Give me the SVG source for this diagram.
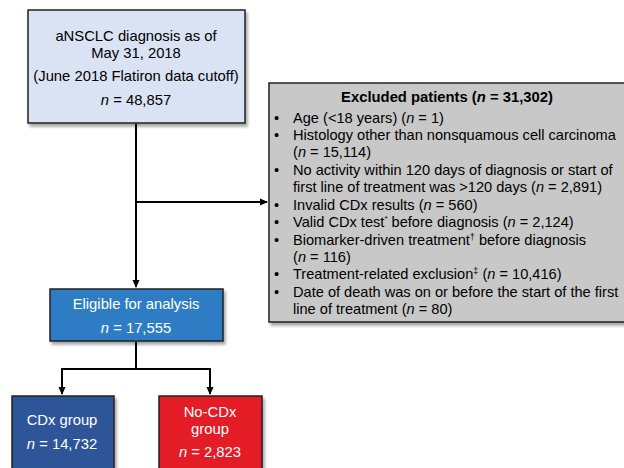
<svg xmlns="http://www.w3.org/2000/svg" width="624" height="468" viewBox="0 0 624 468">
<defs>
<filter id="sh" x="-10%" y="-10%" width="130%" height="130%">
<feDropShadow dx="2" dy="3" stdDeviation="1.5" flood-color="#000" flood-opacity="0.35"/>
</filter>
<marker id="ar" markerWidth="8" markerHeight="8" refX="7" refY="4" orient="auto" markerUnits="userSpaceOnUse">
<path d="M0,0.5 L8,4 L0,7.5 Z" fill="#000"/>
</marker>
</defs>
<style>
text{font-family:"Liberation Sans",Arial,sans-serif;font-size:14.8px}
.s{font-size:14.6px}
.c{text-anchor:middle}
.w{fill:#fff}
.box{stroke:#222;stroke-width:1.5}
.ln{fill:none;stroke:#000;stroke-width:2}
.b{font-weight:bold}
</style>
<rect width="624" height="468" fill="#fff"/>
<g id="connectors">
<line class="ln" x1="136" y1="124" x2="136" y2="287" marker-end="url(#ar)"/>
<line class="ln" x1="136" y1="202" x2="267" y2="202" marker-end="url(#ar)"/>
<polyline class="ln" points="136,342 136,369 62,369 62,394" marker-end="url(#ar)"/>
<polyline class="ln" points="136,369 210,369 210,394" marker-end="url(#ar)"/>
</g>
<g id="n-diagnosis">
<rect class="box" x="28" y="10" width="217" height="113" fill="#dae3f3" filter="url(#sh)"/>
<text class="c" x="136" y="41">aNSCLC diagnosis as of</text>
<text class="c" x="136" y="58">May 31, 2018</text>
<text class="c" x="136" y="81">(June 2018 Flatiron data cutoff)</text>
<text class="c" x="136" y="105"><tspan font-style="italic">n</tspan> = 48,857</text>
</g>
<g id="n-excluded">
<rect class="box" x="269" y="83" width="365" height="239" fill="#c8c8c8" filter="url(#sh)"/>
<text class="c b" x="447" y="102">Excluded patients (<tspan font-style="italic">n</tspan> = 31,302)</text>
<g class="s">
<text class="s" x="274" y="123">•</text><text class="s" x="293" y="123">Age (&lt;18 years) (<tspan font-style="italic">n</tspan> = 1)</text>
<text class="s" x="274" y="140">•</text><text class="s" x="293" y="140">Histology other than nonsquamous cell carcinoma</text>
<text class="s" x="293" y="157">(<tspan font-style="italic">n</tspan> = 15,114)</text>
<text class="s" x="274" y="175">•</text><text class="s" x="293" y="175">No activity within 120 days of diagnosis or start of</text>
<text class="s" x="293" y="192">first line of treatment was &gt;120 days (<tspan font-style="italic">n</tspan> = 2,891)</text>
<text class="s" x="274" y="210">•</text><text class="s" x="293" y="210">Invalid CDx results (<tspan font-style="italic">n</tspan> = 560)</text>
<text class="s" x="274" y="227">•</text><text class="s" x="293" y="227">Valid CDx test<tspan font-size="8" dy="-6">*</tspan><tspan dy="6"> before diagnosis (</tspan><tspan font-style="italic">n</tspan> = 2,124)</text>
<text class="s" x="274" y="245">•</text><text class="s" x="293" y="245">Biomarker-driven treatment<tspan font-size="9" dy="-5">†</tspan><tspan dy="5"> before diagnosis</tspan></text>
<text class="s" x="293" y="262">(<tspan font-style="italic">n</tspan> = 116)</text>
<text class="s" x="274" y="279">•</text><text class="s" x="293" y="279">Treatment-related exclusion<tspan font-size="9" dy="-5">‡</tspan><tspan dy="5"> (</tspan><tspan font-style="italic">n</tspan> = 10,416)</text>
<text class="s" x="274" y="297">•</text><text class="s" x="293" y="297">Date of death was on or before the start of the first</text>
<text class="s" x="293" y="314">line of treatment (<tspan font-style="italic">n</tspan> = 80)</text>
</g>
</g>
<g id="n-eligible">
<rect class="box" x="50" y="289" width="173" height="52" fill="#2e7dc4" filter="url(#sh)"/>
<text class="c w" x="136" y="309">Eligible for analysis</text>
<text class="c w" x="136" y="333"><tspan font-style="italic">n</tspan> = 17,555</text>
</g>
<g id="n-cdx">
<rect class="box" x="12" y="396" width="102" height="74" fill="#2f5597" filter="url(#sh)"/>
<text class="c w" x="62" y="425">CDx group</text>
<text class="c w" x="62" y="449"><tspan font-style="italic">n</tspan> = 14,732</text>
</g>
<g id="n-nocdx">
<rect class="box" x="159" y="396" width="103" height="74" fill="#e31e26" filter="url(#sh)"/>
<text class="c w" x="210" y="417">No-CDx</text>
<text class="c w" x="210" y="434">group</text>
<text class="c w" x="210" y="457"><tspan font-style="italic">n</tspan> = 2,823</text>
</g>
</svg>
